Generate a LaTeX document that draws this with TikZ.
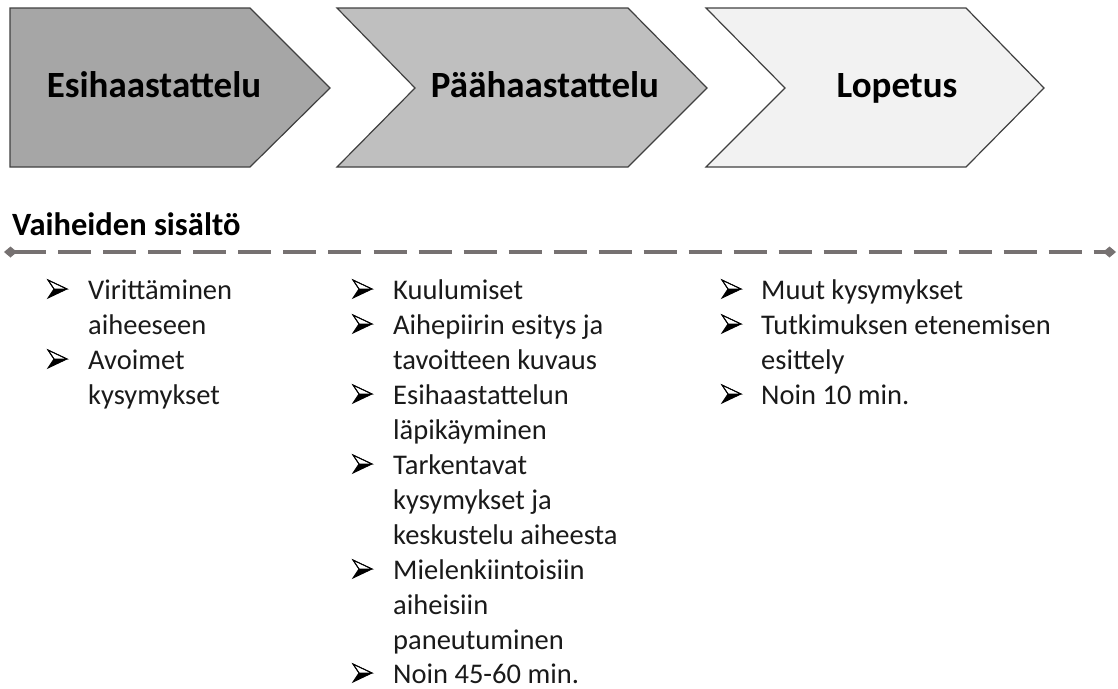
\documentclass[tikz,border=0pt]{standalone}
\usepackage{fontspec}
\setmainfont{Carlito}
\usetikzlibrary{arrows.meta}
\definecolor{chevA}{HTML}{A6A6A6}
\definecolor{chevB}{HTML}{BFBFBF}
\definecolor{chevC}{HTML}{F2F2F2}
\definecolor{chevline}{HTML}{404040}
\definecolor{dashgray}{HTML}{767171}
\definecolor{txtcol}{HTML}{1A1A1A}
\tikzset{
  chev/.style={draw=chevline, line width=1.2pt},
  head/.style={anchor=base, inner sep=0pt, font=\fontsize{37}{44}\selectfont\bfseries, text=black},
  sub/.style={anchor=base west, inner sep=0pt, font=\fontsize{32.5}{39}\selectfont\bfseries, text=black},
  item/.style={anchor=base west, inner sep=0pt, font=\fontsize{28.5}{35}\selectfont, text=txtcol},
  bul/.pic={
    \draw[line width=0.9pt, fill=white, line join=miter] (0,-18) -- (19,-9) -- (6,-9) -- cycle;
    \fill[black] (6,-9) -- (19,-9) -- (0,0) -- cycle;
    \draw[line width=0.9pt, line join=miter] (0,-18) -- (19,-9) -- (0,0) -- (6,-9) -- cycle;
  }
}
\begin{document}
\begin{tikzpicture}[x=1pt,y=-1pt]
\useasboundingbox (0,0) rectangle (1118,688);
% chevrons
\draw[chev, fill=chevA] (10,8) -- (250,8) -- (330,88) -- (250,167) -- (10,167) -- cycle;
\draw[chev, fill=chevB] (337,8) -- (628,8) -- (707,88) -- (628,167) -- (337,167) -- (415,88) -- cycle;
\draw[chev, fill=chevC] (706,8) -- (966,8) -- (1044,88) -- (966,167) -- (706,167) -- (785,88) -- cycle;
\node[head] (h1) at (154,97.5) {Esihaastattelu};
\node[head] (h2) at (545,97.5) {Päähaastattelu};
\node[head] (h3) at (897,97.5) {Lopetus};
% subheading and dashed line
\node[sub] (sub) at (12,235) {Vaiheiden sisältö};
\coordinate (dl) at (4,252);
\coordinate (dr) at (1116,252);
\draw[dashgray, line width=4.5pt, dash pattern=on 33pt off 12pt,
  {Diamond[length=13pt,width=11pt]}-{Diamond[length=13pt,width=11pt]}] (dl) -- (dr);
% column 1
\pic at (48,298) {bul};
\node[item] (a0) at (88,299) {Virittäminen};
\node[item] (a1) at (88,334) {aiheeseen};
\pic at (48,368) {bul};
\node[item] (a2) at (88,369) {Avoimet};
\node[item] (a3) at (88,404) {kysymykset};
% column 2
\pic at (353,298) {bul};
\node[item] (b0) at (393,299) {Kuulumiset};
\pic at (353,333) {bul};
\node[item] (b1) at (393,334) {Aihepiirin esitys ja};
\node[item] (b2) at (393,369) {tavoitteen kuvaus};
\pic at (353,403) {bul};
\node[item] (b3) at (393,404) {Esihaastattelun};
\node[item] (b4) at (393,439) {läpikäyminen};
\pic at (353,473) {bul};
\node[item] (b5) at (393,474) {Tarkentavat};
\node[item] (b6) at (393,509) {kysymykset ja};
\node[item] (b7) at (393,544) {keskustelu aiheesta};
\pic at (353,578) {bul};
\node[item] (b8) at (393,579) {Mielenkiintoisiin};
\node[item] (b9) at (393,614) {aiheisiin};
\node[item] (b10) at (393,649) {paneutuminen};
\pic at (353,682) {bul};
\node[item] (b11) at (393,683) {Noin 45-60 min.};
% column 3
\pic at (722,298) {bul};
\node[item] (c0) at (761,299) {Muut kysymykset};
\pic at (722,333) {bul};
\node[item] (c1) at (761,334) {Tutkimuksen etenemisen};
\node[item] (c2) at (761,369) {esittely};
\pic at (722,403) {bul};
\node[item] (c3) at (761,404) {Noin 10 min.};
\end{tikzpicture}
\end{document}
